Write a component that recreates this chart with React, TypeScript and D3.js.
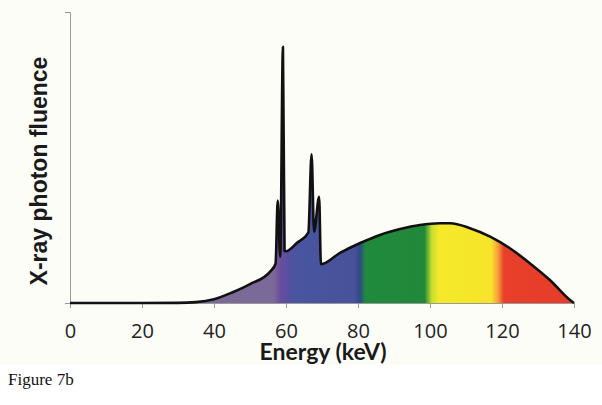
import React, { useEffect, useRef } from 'react';
import * as d3 from 'd3';

// energy (keV) and relative photon fluence
const energy = [0, 10, 20, 30, 35, 40, 45, 50, 55.6, 57.1, 57.7, 58.4, 59.15, 59.6, 60, 63, 66.2, 67.1, 67.8, 69.2, 69.7, 75, 80.6, 86.1, 91.7, 97.2, 102.8, 105.6, 111.1, 116.7, 122.2, 127.8, 133.3, 138.9, 140];
const fluence = [0, 0, 0, 0.05, 0.3, 1.3, 3.6, 6.5, 10.8, 13.5, 35.2, 15.9, 88, 18, 17.8, 20.6, 24.2, 51.1, 24.5, 36.5, 13.3, 17.2, 20.6, 23.4, 25.4, 26.8, 27.4, 27.4, 25.7, 22.8, 18.8, 13.6, 7.9, 1.0, 0];
const xTicks = [0, 20, 40, 60, 80, 100, 120, 140];

// colour bands along the energy axis
const bandStops: [number, string][] = [
  [0, '#7b6b98'], [56.5, '#7b6a98'], [58.5, '#6a4c9f'], [61, '#5250a0'], [63, '#4a55a0'],
  [79, '#47529a'], [80.6, '#2f4a82'], [82, '#1f8a3c'], [98.5, '#22883a'], [100.5, '#c8df2c'],
  [102.5, '#f5e92a'], [117, '#f6e42a'], [118.8, '#f7a23a'], [120.5, '#e8402b'], [140, '#e63b2a'],
];

const App = () => {
  const svgRef = useRef<SVGSVGElement>(null);

  useEffect(() => {
    const svg = d3.select(svgRef.current);
    svg.selectAll('*').remove();

    const x = d3.scaleLinear().domain([0, 140]).range([70, 574]);
    const y = d3.scaleLinear().domain([0, 100]).range([303, 12]);
    const pts = energy.map((e, i) => [e, fluence[i]] as [number, number]);

    svg.append('rect').attr('width', 602).attr('height', 365).attr('fill', '#fdfdf8');

    const grad = svg.append('defs').append('linearGradient')
      .attr('id', 'spectrum')
      .attr('gradientUnits', 'userSpaceOnUse')
      .attr('x1', x(0)).attr('x2', x(140)).attr('y1', 0).attr('y2', 0);
    grad.selectAll('stop').data(bandStops).enter().append('stop')
      .attr('offset', d => d[0] / 140)
      .attr('stop-color', d => d[1]);

    // axes
    const xAxis = svg.append('g')
      .attr('transform', `translate(0,${y(0)})`)
      .call(d3.axisBottom(x).tickValues(xTicks).tickSize(5).tickPadding(16));
    xAxis.select('.domain').attr('stroke', '#999');
    xAxis.selectAll('.tick line').attr('stroke', '#999');
    xAxis.selectAll('.tick text')
      .attr('font-family', 'Open Sans, sans-serif')
      .attr('font-size', 20)
      .attr('fill', '#222');

    const yAxis = svg.append('g')
      .attr('transform', `translate(${x(0)},0)`)
      .call(d3.axisLeft(y).tickValues([0]).tickSize(5).tickFormat(() => ''));
    yAxis.select('.domain').attr('stroke', '#999');
    yAxis.selectAll('.tick line').attr('stroke', '#999');

    const curve = d3.curveMonotoneX;
    const area = d3.area<[number, number]>()
      .x(d => x(d[0])).y0(y(0)).y1(d => y(d[1])).curve(curve);
    const line = d3.line<[number, number]>()
      .x(d => x(d[0])).y(d => y(d[1])).curve(curve);

    svg.append('path').attr('d', area(pts)).attr('fill', 'url(#spectrum)');
    svg.append('path').attr('d', line(pts))
      .attr('fill', 'none')
      .attr('stroke', '#111')
      .attr('stroke-width', 2.6)
      .attr('stroke-linejoin', 'round');

    // labels
    svg.append('text')
      .attr('x', 323).attr('y', 360)
      .attr('text-anchor', 'middle')
      .attr('font-family', 'Lato, sans-serif')
      .attr('font-weight', 'bold')
      .attr('font-size', 23)
      .attr('fill', '#1a1a1a')
      .text('Energy (keV)');

    svg.append('text')
      .attr('transform', 'translate(47,171) rotate(-90)')
      .attr('text-anchor', 'middle')
      .attr('font-family', 'Liberation Sans, Arial, sans-serif')
      .attr('font-weight', 'bold')
      .attr('font-size', 23)
      .attr('fill', '#1a1a1a')
      .text('X-ray photon fluence');

    svg.append('text')
      .attr('x', 8).attr('y', 385)
      .attr('font-family', 'Liberation Serif, Times New Roman, serif')
      .attr('font-size', 17)
      .attr('fill', '#111')
      .text('Figure 7b');
  }, []);

  return (
    <svg ref={svgRef} width={602} height={405}
      style={{ position: 'absolute', left: 0, top: 0, background: '#fff' }} />
  );
};

export default App;
